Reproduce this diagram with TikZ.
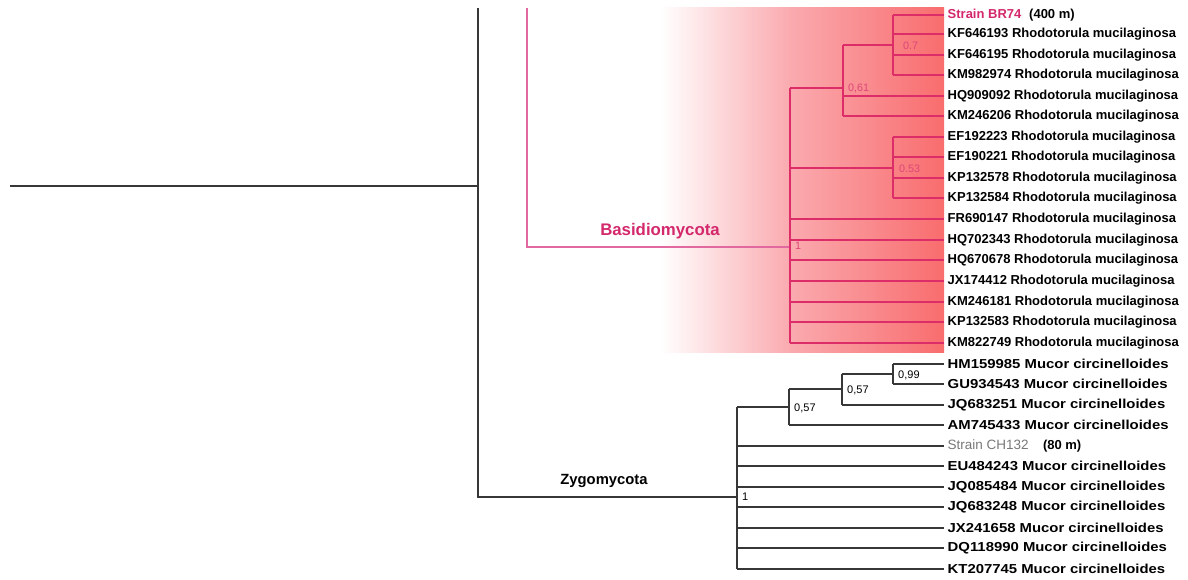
\documentclass[tikz,border=0pt]{standalone}
\usepackage{fontspec}
\setmainfont{Liberation Sans}
\definecolor{pinkline}{RGB}{220,45,105}
\definecolor{pinkroot}{RGB}{225,105,160}
\definecolor{pinktext}{RGB}{212,40,108}
\definecolor{pinknum}{RGB}{222,70,120}
\definecolor{gradred}{RGB}{248,88,88}
\definecolor{gradmid}{RGB}{250,170,175}
\definecolor{blackline}{RGB}{55,55,55}
\definecolor{graytext}{RGB}{120,120,120}
\pgfdeclarehorizontalshading{redfade}{100bp}{color(0bp)=(white); color(25bp)=(white); color(48bp)=(gradmid); color(75bp)=(gradred!75!gradmid); color(100bp)=(gradred)}
\newcommand{\mw}[1]{\scalebox{1.145}[1]{#1}}
\tikzset{
  pk/.style={draw=pinkline, line width=1.3pt},
  pkroot/.style={draw=pinkroot, line width=1.4pt},
  bk/.style={draw=blackline, line width=1.3pt},
  leaf/.style={anchor=west, inner xsep=3.5pt, inner ysep=0pt, font=\fontsize{13}{14}\selectfont\bfseries},
  pnum/.style={anchor=west, inner sep=1pt, text=pinknum, font=\fontsize{10.8}{11}\selectfont},
  bnum/.style={anchor=west, inner sep=1pt, text=black, font=\fontsize{11}{12}\selectfont},
}
\begin{document}
\begin{tikzpicture}[x=1pt,y=-1pt]
\useasboundingbox (0,0) rectangle (1188,580);
% gradient background
\shade[shading=redfade] (660,8) rectangle (944,352);

% leaves
\node[leaf] (L0) at (944,15) {\textcolor{pinktext}{Strain BR74}\hspace{0.6em}(400 m)};
\node[leaf] (L1) at (944,34) {KF646193 Rhodotorula mucilaginosa};
\node[leaf] (L2) at (944,55) {KF646195 Rhodotorula mucilaginosa};
\node[leaf] (L3) at (944,75) {KM982974 Rhodotorula mucilaginosa};
\node[leaf] (L4) at (944,96) {HQ909092 Rhodotorula mucilaginosa};
\node[leaf] (L5) at (944,116) {KM246206 Rhodotorula mucilaginosa};
\node[leaf] (L6) at (944,137) {EF192223 Rhodotorula mucilaginosa};
\node[leaf] (L7) at (944,157) {EF190221 Rhodotorula mucilaginosa};
\node[leaf] (L8) at (944,178) {KP132578 Rhodotorula mucilaginosa};
\node[leaf] (L9) at (944,198) {KP132584 Rhodotorula mucilaginosa};
\node[leaf] (L10) at (944,219) {FR690147 Rhodotorula mucilaginosa};
\node[leaf] (L11) at (944,240) {HQ702343 Rhodotorula mucilaginosa};
\node[leaf] (L12) at (944,260) {HQ670678 Rhodotorula mucilaginosa};
\node[leaf] (L13) at (944,281) {JX174412 Rhodotorula mucilaginosa};
\node[leaf] (L14) at (944,302) {KM246181 Rhodotorula mucilaginosa};
\node[leaf] (L15) at (944,322) {KP132583 Rhodotorula mucilaginosa};
\node[leaf] (L16) at (944,343) {KM822749 Rhodotorula mucilaginosa};
\node[leaf] (L17) at (944,364) {\mw{HM159985 Mucor circinelloides}};
\node[leaf] (L18) at (944,384) {\mw{GU934543 Mucor circinelloides}};
\node[leaf] (L19) at (944,405) {\mw{JQ683251 Mucor circinelloides}};
\node[leaf] (L20) at (944,425) {\mw{AM745433 Mucor circinelloides}};
\node[leaf] (L21) at (944,446) {\textcolor{graytext}{\mdseries\fontsize{13.5}{14}\selectfont Strain CH132}\hspace{1.1em}(80 m)};
\node[leaf] (L22) at (944,466) {\mw{EU484243 Mucor circinelloides}};
\node[leaf] (L23) at (944,487) {\mw{JQ085484 Mucor circinelloides}};
\node[leaf] (L24) at (944,507) {\mw{JQ683248 Mucor circinelloides}};
\node[leaf] (L25) at (944,528) {\mw{JX241658 Mucor circinelloides}};
\node[leaf] (L26) at (944,548) {\mw{DQ118990 Mucor circinelloides}};
\node[leaf] (L27) at (944,569) {\mw{KT207745 Mucor circinelloides}};

% internal coordinates
\coordinate (rootL) at (10,186);
\coordinate (rootT) at (478,8);
\coordinate (root) at (478,186);
\coordinate (rootB) at (478,497);
\coordinate (P0T) at (527,8);
\coordinate (P0) at (527,247);
\coordinate (B1) at (790,247);
\coordinate (B61) at (843,88);
\coordinate (B7) at (893,45);
\coordinate (B53) at (893,168);
\coordinate (Z1) at (737,497);
\coordinate (Z57a) at (789,407);
\coordinate (Z57b) at (842,389);
\coordinate (Z99) at (893,374);

% black backbone
\draw[bk] (rootL) -- (root);
\draw[bk] (rootT) -- (rootB) -- (Z1);
% pink root
\draw[pkroot] (P0T) -- (P0) -- (B1);

% Basidiomycota clade
\draw[pk] (B1 |- B61) -- (B1 |- L16.west);
\draw[pk] (B1 |- B61) -- (B61);
\draw[pk] (B61 |- B7) -- (B61 |- L5.west);
\draw[pk] (B61 |- B7) -- (B7);
\draw[pk] (B7 |- L0.west) -- (B7 |- L3.west);
\draw[pk] (B1 |- B53) -- (B53);
\draw[pk] (B53 |- L6.west) -- (B53 |- L9.west);
\foreach \i in {0,1,2,3} \draw[pk] (B7 |- L\i.west) -- (L\i.west);
\foreach \i in {4,5} \draw[pk] (B61 |- L\i.west) -- (L\i.west);
\foreach \i in {6,7,8,9} \draw[pk] (B53 |- L\i.west) -- (L\i.west);
\foreach \i in {10,...,16} \draw[pk] (B1 |- L\i.west) -- (L\i.west);

% Zygomycota clade
\draw[bk] (Z1 |- Z57a) -- (Z1 |- L27.west);
\draw[bk] (Z1 |- Z57a) -- (Z57a);
\draw[bk] (Z57a |- Z57b) -- (Z57a |- L20.west);
\draw[bk] (Z57a |- Z57b) -- (Z57b);
\draw[bk] (Z57b |- Z99) -- (Z57b |- L19.west);
\draw[bk] (Z57b |- Z99) -- (Z99);
\draw[bk] (Z99 |- L17.west) -- (Z99 |- L18.west);
\foreach \i in {17,18} \draw[bk] (Z99 |- L\i.west) -- (L\i.west);
\draw[bk] (Z57b |- L19.west) -- (L19.west);
\draw[bk] (Z57a |- L20.west) -- (L20.west);
\foreach \i in {21,...,27} \draw[bk] (Z1 |- L\i.west) -- (L\i.west);

% support values
\node[pnum] (s07) at (902,46) {0.7};
\node[pnum] (s061) at (847,88) {0,61};
\node[pnum] (s053) at (898,169) {0.53};
\node[pnum] (s1p) at (794,246) {1};
\node[bnum] (s099) at (897,375) {0,99};
\node[bnum] (s057b) at (846,390) {0,57};
\node[bnum] (s057a) at (793,408) {0,57};
\node[bnum] (s1z) at (741,497) {1};

% clade labels
\node[text=pinktext, font=\fontsize{16.8}{18}\selectfont\bfseries] (basid) at (660,231) {Basidiomycota};
\node[text=black, font=\fontsize{14.8}{16}\selectfont\bfseries] (zygo) at (604,481) {Zygomycota};
\end{tikzpicture}
\end{document}
